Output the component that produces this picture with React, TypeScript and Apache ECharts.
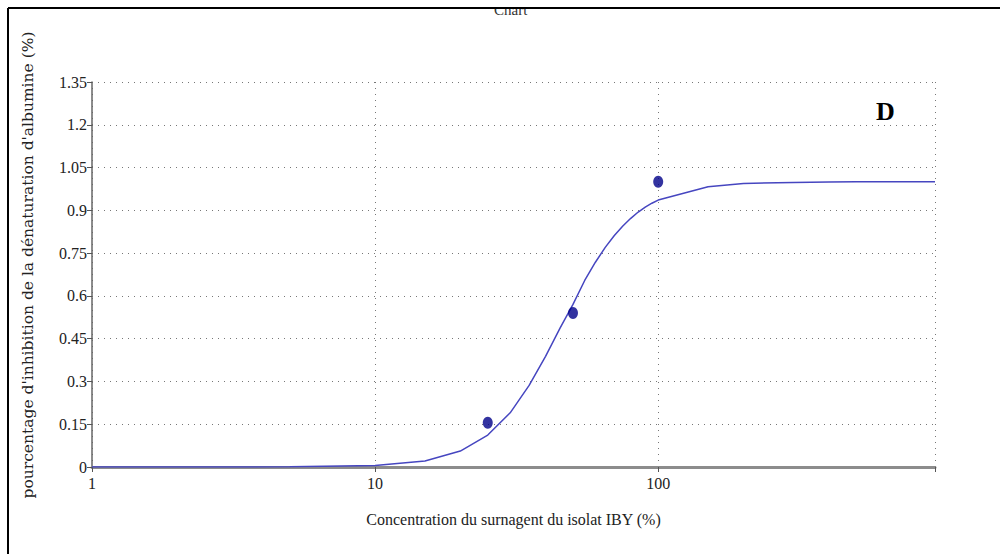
import React, { useEffect, useRef } from "react";
import * as echarts from "echarts";

const curveX = [1, 2, 5, 10, 15, 20, 25, 30, 35, 40, 45, 50, 55, 60, 65, 70, 75, 80, 85, 90, 95, 100, 150, 200, 300, 400, 500, 700, 950];
const curveY = [0, 0, 0.0005, 0.005, 0.021, 0.056, 0.112, 0.19, 0.286, 0.388, 0.487, 0.57, 0.654, 0.718, 0.77, 0.812, 0.845, 0.872, 0.894, 0.911, 0.925, 0.936, 0.983, 0.994, 0.998, 0.999, 1.0, 1.0, 1.0];
const pointX = [25, 50, 100];
const pointY = [0.155, 0.54, 1.0];
const yTicks = ["0", "0.15", "0.3", "0.45", "0.6", "0.75", "0.9", "1.05", "1.2", "1.35"];
const xLabels = ["1", "10", "100"];
const xTitle = "Concentration du surnagent du isolat IBY (%)";
const yTitle = "pourcentage d'inhibition de la dénaturation d'albumine (%)";
const panelLetter = "D";
const chartTitle = "Chart";

export default function App() {
  const ref = useRef<HTMLDivElement>(null);
  useEffect(() => {
    if (!ref.current) return;
    const chart = echarts.init(ref.current, null, { renderer: "svg" });
    const serif = "Liberation Serif";
    chart.setOption({
      animation: false,
      backgroundColor: "#ffffff",
      grid: { left: 92, right: 65, top: 82, bottom: 87, containLabel: false },
      xAxis: {
        type: "log",
        logBase: 10,
        min: 1,
        max: 950,
        axisLine: { show: true, lineStyle: { color: "#8c8c8c", width: 3 } },
        axisTick: { show: true, length: 5, lineStyle: { color: "#555" } },
        axisLabel: {
          color: "#222",
          fontFamily: serif,
          fontSize: 16,
          margin: 8,
          formatter: (v: number) => {
            const s = String(Math.round(v));
            return xLabels.includes(s) ? s : "";
          },
        },
        splitLine: { show: true, lineStyle: { color: "#777", type: [1, 5], width: 1 } },
        name: xTitle,
        nameLocation: "middle",
        nameGap: 44,
        nameTextStyle: { fontFamily: serif, fontSize: 16, color: "#222" },
      },
      yAxis: {
        type: "value",
        min: 0,
        max: 1.35,
        interval: 0.15,
        axisLine: { show: true, lineStyle: { color: "#666", width: 1.5 } },
        axisTick: { show: true, length: 5, lineStyle: { color: "#555" } },
        axisLabel: {
          color: "#222",
          fontFamily: serif,
          fontSize: 16,
          margin: 5,
          formatter: (v: number) => yTicks[Math.round(v / 0.15)] ?? "",
        },
        splitLine: { show: true, lineStyle: { color: "#777", type: [1, 5], width: 1 } },
      },
      series: [
        {
          type: "line",
          data: curveX.map((x, i) => [x, curveY[i]]),
          showSymbol: false,
          symbol: "none",
          lineStyle: { color: "#4646c0", width: 1.5 },
          z: 3,
        },
        {
          type: "scatter",
          data: pointX.map((x, i) => [x, pointY[i]]),
          symbol: "circle",
          symbolSize: [10, 12],
          itemStyle: { color: "#000088" },
          z: 4,
        },
      ],
      graphic: [
        {
          type: "text",
          left: 494,
          top: 2,
          style: { text: chartTitle, fontFamily: serif, fontSize: 15, fill: "#333" },
          z: 10,
        },
        { type: "rect", shape: { x: 0, y: 0, width: 1000, height: 8 }, style: { fill: "#fff" }, z: 11 },
        { type: "line", shape: { x1: 8, y1: 8, x2: 1000, y2: 8 }, style: { stroke: "#000", lineWidth: 2 }, z: 12 },
        { type: "line", shape: { x1: 8, y1: 8, x2: 8, y2: 554 }, style: { stroke: "#000", lineWidth: 2 }, z: 12 },
        {
          type: "text",
          x: 28,
          y: 265,
          rotation: Math.PI / 2,
          style: {
            text: yTitle,
            fontFamily: "DejaVu Serif",
            fontSize: 15.5,
            fill: "#222",
            align: "center",
            verticalAlign: "middle",
          },
          z: 10,
        },
        {
          type: "text",
          left: 876,
          top: 98,
          style: { text: panelLetter, fontFamily: serif, fontSize: 26, fontWeight: "bold", fill: "#000" },
          z: 10,
        },
      ],
    });
    return () => chart.dispose();
  }, []);
  return <div ref={ref} style={{ position: "absolute", left: 0, top: 0, width: 1000, height: 554 }} />;
}
